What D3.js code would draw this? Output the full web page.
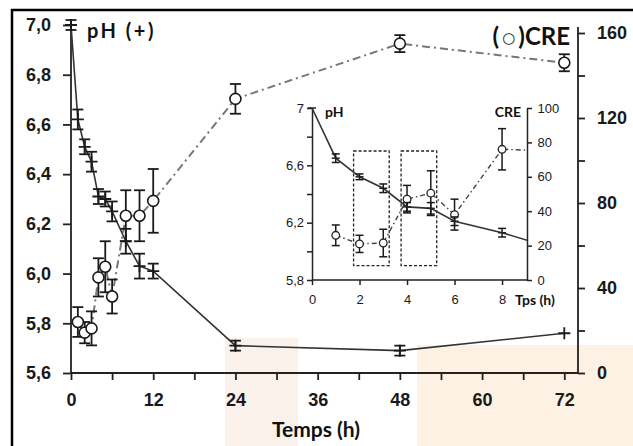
<!DOCTYPE html>
<html>
<head>
<meta charset="utf-8">
<script src="https://cdn.jsdelivr.net/npm/d3@7"></script>
<style>
  body { margin: 0; background: #fff; }
  svg { display: block; font-family: Lato, "Open Sans", sans-serif; }
  .tick text { fill: #1a1a1a; }
</style>
</head>
<body>
<svg width="633" height="446"></svg>
<script>
// main chart: pH (+) and CRE (open circles) over 72 h
const phTimes = [0, 1, 2, 3, 4, 5, 6, 8, 10, 12, 24, 48, 72];
const phValues = [7.0, 6.62, 6.51, 6.45, 6.31, 6.30, 6.25, 6.13, 6.03, 6.01, 5.71, 5.69, 5.76];
const phErrors = [0.02, 0.04, 0.03, 0.04, 0.03, 0.03, 0.04, 0.05, 0.05, 0.03, 0.02, 0.02, 0];

const creTimes = [1, 2, 3, 4, 5, 6, 8, 10, 12, 24, 48, 72];
const creValues = [24, 19, 21, 45, 50, 36, 74, 74, 81, 129, 155, 146];
const creErrors = [7, 5, 8, 9, 12, 8, 12, 12, 15, 7, 4, 4];

// inset: first 8 h
const insetTimes = [0, 1, 2, 3, 4, 5, 6, 8, 10];
const insetPh = [7.0, 6.65, 6.52, 6.44, 6.31, 6.30, 6.21, 6.13, 6.03];
const insetPhErr = [0, 0.03, 0.02, 0.03, 0.03, 0.04, 0.03, 0.03, 0];
const insetCreTimes = [1, 2, 3, 4, 5, 6, 8, 10];
const insetCre = [26, 21, 21.5, 47, 50.5, 38, 76, 75];
const insetCreErr = [6, 5, 8, 8, 13, 9, 12, 0];
const insetBoxes = [[1.75, 3.25], [3.75, 5.25]];
const insetBoxPh = [5.9, 6.7];

const mainXTicks = [0, 6, 12, 18, 24, 30, 36, 42, 48, 54, 60, 66, 72];
const mainXLabels = [0, 12, 24, 36, 48, 60, 72];
const mainPhTicks = [5.6, 5.8, 6.0, 6.2, 6.4, 6.6, 6.8, 7.0];
const mainCreTicks = [0, 20, 40, 60, 80, 100, 120, 140, 160];
const insetXTicks = [0, 2, 4, 6, 8];
const insetPhTicks = [5.8, 6.0, 6.2, 6.4, 6.6, 6.8, 7.0];
const insetPhLabels = [5.8, 6.2, 6.6, 7.0];
const insetCreTicks = [0, 20, 40, 60, 80, 100];

const comma = d3.formatLocale({decimal: ',', thousands: '.', grouping: [3], currency: ['', '']});
const f1 = comma.format('.1f');

const svg = d3.select('svg');

// faint watermark blocks in the background
const wm = svg.append('g');
wm.append('rect').attr('x', 225).attr('y', 338).attr('width', 73).attr('height', 108).attr('fill', '#faf2ea');
wm.append('rect').attr('x', 417).attr('y', 345).attr('width', 216).attr('height', 101).attr('fill', '#fdf1e4');

// frame
svg.append('path').attr('d', 'M12,446V10H633').attr('fill', 'none').attr('stroke', '#000').attr('stroke-width', 2.5);

const x = d3.scaleLinear().domain([0, 74]).range([71, 578]);
const yPh = d3.scaleLinear().domain([5.6, 7.0]).range([373, 25]);
const yCre = d3.scaleLinear().domain([0, 160]).range([373, 33]);

// axes
const gx = svg.append('g').attr('transform', 'translate(0,373)')
  .call(d3.axisBottom(x).tickValues(mainXTicks).tickSize(7).tickSizeOuter(0)
    .tickFormat(d => mainXLabels.includes(d) ? d : ''));
const gl = svg.append('g').attr('transform', 'translate(71,0)')
  .call(d3.axisLeft(yPh).tickValues(mainPhTicks).tickSize(8).tickSizeOuter(0).tickFormat(f1));
const gr = svg.append('g').attr('transform', 'translate(578,0)')
  .call(d3.axisRight(yCre).tickValues(mainCreTicks).tickSize(7).tickSizeOuter(0)
    .tickFormat(d => d % 40 === 0 ? d : ''));
gr.select('.domain').attr('d', 'M0,373V27');
gl.select('.domain').attr('d', 'M0,373V23');
gx.select('.domain').attr('d', 'M71,0H578');
[gx, gl, gr].forEach(g => {
  g.selectAll('path, line').attr('stroke', '#222').attr('stroke-width', 1.8);
  g.selectAll('text').attr('font-size', 18).attr('font-weight', 'bold');
});
gx.selectAll('text').attr('dy', '1.25em');
gl.selectAll('text').attr('dx', '-0.5em');
gr.selectAll('text').attr('dx', '0.5em');

// CRE main series
const creLine = d3.line().x((d, i) => x(creTimes[i])).y(d => yCre(d));
svg.append('path').datum(creValues).attr('d', creLine).attr('fill', 'none')
  .attr('stroke', '#777').attr('stroke-width', 2).attr('stroke-dasharray', '8,4,2,4');

// pH main series
const phLine = d3.line().x((d, i) => x(phTimes[i])).y(d => yPh(d));
svg.append('path').datum(phValues).attr('d', phLine).attr('fill', 'none')
  .attr('stroke', '#333').attr('stroke-width', 1.6);

function errorBars(g, xs, ys, errs, xScale, yScale, cap, sw) {
  const sel = g.selectAll(null).data(ys).enter().filter((d, i) => errs[i] > 0).append('g');
  sel.append('line')
    .attr('x1', (d, i) => xScale(xs[i])).attr('x2', (d, i) => xScale(xs[i]))
    .attr('y1', (d, i) => yScale(d - errs[i])).attr('y2', (d, i) => yScale(d + errs[i]));
  sel.append('line')
    .attr('x1', (d, i) => xScale(xs[i]) - cap).attr('x2', (d, i) => xScale(xs[i]) + cap)
    .attr('y1', (d, i) => yScale(d + errs[i])).attr('y2', (d, i) => yScale(d + errs[i]));
  sel.append('line')
    .attr('x1', (d, i) => xScale(xs[i]) - cap).attr('x2', (d, i) => xScale(xs[i]) + cap)
    .attr('y1', (d, i) => yScale(d - errs[i])).attr('y2', (d, i) => yScale(d - errs[i]));
  sel.selectAll('line').attr('stroke', '#1a1a1a').attr('stroke-width', sw);
}

const marks = svg.append('g');
errorBars(marks, creTimes, creValues, creErrors, x, yCre, 5.5, 1.8);
marks.selectAll('circle.cre').data(creValues).enter().append('circle').attr('class', 'cre')
  .attr('cx', (d, i) => x(creTimes[i])).attr('cy', d => yCre(d)).attr('r', 5.5)
  .attr('fill', '#fff').attr('stroke', '#1a1a1a').attr('stroke-width', 1.6);

errorBars(marks, phTimes, phValues, phErrors, x, yPh, 5.5, 1.8);
marks.selectAll('path.plus').data(phValues).enter().append('path').attr('class', 'plus')
  .attr('d', (d, i) => `M${x(phTimes[i]) - 6},${yPh(d)}h12M${x(phTimes[i])},${yPh(d) - 6}v12`)
  .attr('stroke', '#1a1a1a').attr('stroke-width', 1.8);

// main labels
svg.append('text').attr('x', 87).attr('y', 38).attr('font-size', 20).attr('font-weight', 'bold')
  .attr('letter-spacing', 2.5).attr('fill', '#111').text('pH (+)');
const creLabel = svg.append('text').attr('x', 570).attr('y', 45).attr('text-anchor', 'end')
  .attr('font-size', 24).attr('font-weight', 'bold').attr('fill', '#111');
creLabel.append('tspan').text('(');
creLabel.append('tspan').attr('font-family', 'DejaVu Sans').attr('font-weight', 'normal')
  .attr('font-size', 15).attr('dy', -2).text('\u2009○\u2009');
creLabel.append('tspan').attr('dy', 2).text(')CRE');
svg.append('text').attr('x', 316).attr('y', 437).attr('text-anchor', 'middle').attr('font-size', 21)
  .attr('font-weight', 'bold').attr('fill', '#111').text('Temps (h)');

// ---------- inset ----------
const xi = d3.scaleLinear().domain([0, 9.05]).range([312, 527]);
const yiPh = d3.scaleLinear().domain([5.8, 7.0]).range([280, 108]);
const yiCre = d3.scaleLinear().domain([0, 100]).range([280, 108]);

const inset = svg.append('g');
inset.append('clipPath').attr('id', 'insetClip').append('rect')
  .attr('x', 312).attr('y', 100).attr('width', 215).attr('height', 180);

const ix = inset.append('g').attr('transform', 'translate(0,280)')
  .call(d3.axisBottom(xi).tickValues(insetXTicks).tickSize(5).tickSizeOuter(0));
const il = inset.append('g').attr('transform', 'translate(312,0)')
  .call(d3.axisLeft(yiPh).tickValues(insetPhTicks).tickSize(5).tickSizeOuter(0)
    .tickFormat(d => insetPhLabels.some(v => Math.abs(v - d) < 1e-6) ? (d === 7 ? '7' : f1(d)) : ''));
const ir = inset.append('g').attr('transform', 'translate(527,0)')
  .call(d3.axisRight(yiCre).tickValues(insetCreTicks).tickSize(5).tickSizeOuter(0));
ix.select('.domain').attr('d', 'M312,0H527');
[ix, il, ir].forEach(g => {
  g.selectAll('path, line').attr('stroke', '#222').attr('stroke-width', 1.5);
  g.selectAll('text').attr('font-size', 13).attr('fill', '#222');
});
ix.selectAll('text').attr('dy', '1.2em');
ir.selectAll('text').attr('dx', '0.2em');

const iplot = inset.append('g').attr('clip-path', 'url(#insetClip)');
iplot.selectAll('rect.box').data(insetBoxes).enter().append('rect').attr('class', 'box')
  .attr('x', d => xi(d[0])).attr('width', d => xi(d[1]) - xi(d[0]))
  .attr('y', yiPh(insetBoxPh[1])).attr('height', yiPh(insetBoxPh[0]) - yiPh(insetBoxPh[1]))
  .attr('fill', 'none').attr('stroke', '#222').attr('stroke-width', 1.3).attr('stroke-dasharray', '3,2');

const iCreLine = d3.line().x((d, i) => xi(insetCreTimes[i])).y(d => yiCre(d));
iplot.append('path').datum(insetCre).attr('d', iCreLine).attr('fill', 'none')
  .attr('stroke', '#444').attr('stroke-width', 1.4).attr('stroke-dasharray', '5,3,1.5,3');
const iPhLine = d3.line().x((d, i) => xi(insetTimes[i])).y(d => yiPh(d));
iplot.append('path').datum(insetPh).attr('d', iPhLine).attr('fill', 'none')
  .attr('stroke', '#333').attr('stroke-width', 1.6);

const iMarks = inset.append('g');
errorBars(iMarks, insetCreTimes.slice(0, 7), insetCre.slice(0, 7), insetCreErr, xi, yiCre, 4, 1.5);
iMarks.selectAll('circle').data(insetCre.slice(0, 7)).enter().append('circle')
  .attr('cx', (d, i) => xi(insetCreTimes[i])).attr('cy', d => yiCre(d)).attr('r', 3.8)
  .attr('fill', '#fff').attr('stroke', '#222').attr('stroke-width', 1.3);
errorBars(iMarks, insetTimes.slice(1, 8), insetPh.slice(1, 8), insetPhErr.slice(1, 8), xi, yiPh, 4, 1.5);
iMarks.selectAll('path.plus').data(insetPh.slice(0, 8)).enter().append('path').attr('class', 'plus')
  .attr('d', (d, i) => `M${xi(insetTimes[i]) - 4},${yiPh(d)}h8`)
  .attr('stroke', '#222').attr('stroke-width', 1.5);

inset.append('text').attr('x', 325).attr('y', 117).attr('font-size', 14).attr('font-weight', 'bold')
  .attr('fill', '#111').text('pH');
inset.append('text').attr('x', 521).attr('y', 117).attr('text-anchor', 'end').attr('font-size', 14)
  .attr('font-weight', 'bold').attr('fill', '#111').text('CRE');
inset.append('text').attr('x', 515).attr('y', 305).attr('font-size', 14).attr('font-weight', 'bold')
  .attr('fill', '#111').text('Tps (h)');
</script>
</body>
</html>
